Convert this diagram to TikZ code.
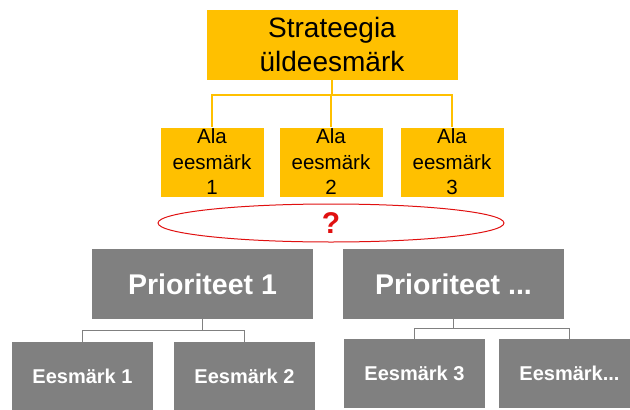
\documentclass[tikz,border=0pt]{standalone}
\usepackage{fontspec}
\setmainfont{Liberation Sans}
\usetikzlibrary{shapes.geometric}
\definecolor{orng}{HTML}{FFC000}
\definecolor{gry}{HTML}{808080}
\definecolor{qred}{HTML}{E01010}
\begin{document}
\begin{tikzpicture}[x=1pt,y=-1pt,
  obox/.style={rectangle,fill=orng,draw=white,line width=0.6pt,inner sep=0pt,align=center,text=black},
  gbox/.style={rectangle,fill=gry,inner sep=0pt,align=center,text=white,font=\bfseries},
  pbox/.style={gbox,minimum width=221pt,minimum height=70pt,font=\bfseries\fontsize{28.5}{32}\selectfont},
  ebox/.style={gbox,minimum width=141pt,minimum height=69pt,font=\bfseries\fontsize{20}{24}\selectfont},
  oline/.style={draw=orng,line width=1.5pt},
  gline/.style={draw=gry,line width=1pt}]
\useasboundingbox (0,0) rectangle (630,410);
\clip (0,0) rectangle (630,410);
% top
\node[obox,minimum width=252pt,minimum height=71pt,font=\fontsize{28}{34}\selectfont] (top) at (332,44.5) {Strateegia\\üldeesmärk};
\foreach \i/\x in {1/212,2/331,3/452}{
  \node[obox,minimum width=104pt,minimum height=70pt,font=\fontsize{20.5}{25.5}\selectfont] (ala\i) at (\x,162) {Ala\\eesmärk\\\i};
}
\coordinate (tj) at (332,95);
\draw[oline] (top.south) -- (tj);
\draw[oline] (tj) -| (ala1.north);
\draw[oline] (tj) -| (ala2.north);
\draw[oline] (tj) -| (ala3.north);
% ellipse
\node[ellipse,draw=qred,line width=1pt,minimum width=346pt,minimum height=38pt,inner sep=0pt,text=qred,font=\bfseries\fontsize{30}{32}\selectfont] (q) at (331,223) {?};
% priorities
\node[pbox] (p1) at (202.5,284) {Prioriteet 1};
\node[pbox] (p2) at (453.5,284) {Prioriteet ...};
\node[ebox] (e1) at (82.5,376.5) {Eesmärk 1};
\node[ebox] (e2) at (244.5,376.5) {Eesmärk 2};
\node[ebox] (e3) at (414.5,373.5) {Eesmärk 3};
\node[ebox] (e4) at (569.5,373.5) {Eesmärk...};
\coordinate (pj1) at (202.5,330);
\coordinate (pj2) at (453.5,328);
\draw[gline] (p1.south) -- (pj1);
\draw[gline] (pj1) -| (e1.north);
\draw[gline] (pj1) -| (e2.north);
\draw[gline] (p2.south) -- (pj2);
\draw[gline] (pj2) -| (e3.north);
\draw[gline] (pj2) -| (e4.north);
\end{tikzpicture}
\end{document}
